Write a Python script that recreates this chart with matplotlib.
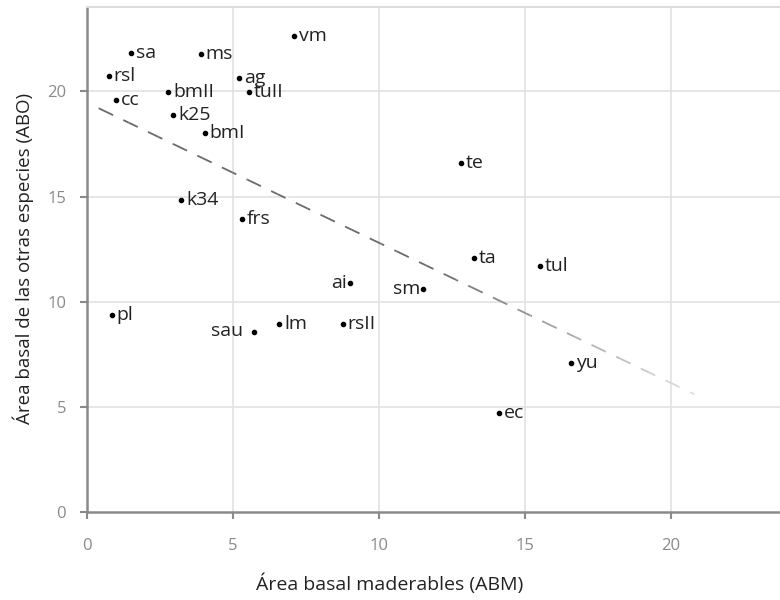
import matplotlib
matplotlib.use("Agg")
import matplotlib.pyplot as plt
import numpy as np

# Data
labels = ["sa", "ms", "vm", "rsl", "ag", "bmII", "tuII", "cc", "k25", "bmI",
          "te", "k34", "frs", "ta", "tul", "ai", "sm", "pl", "lm", "rsII",
          "sau", "yu", "ec"]
abm = [1.50, 3.90, 7.08, 0.75, 5.22, 2.78, 5.54, 0.99, 2.96, 4.04,
       12.81, 3.22, 5.30, 13.25, 15.50, 9.01, 11.52, 0.85, 6.58, 8.76,
       5.72, 16.59, 14.12]
abo = [21.82, 21.80, 22.64, 20.75, 20.66, 19.97, 19.95, 19.60, 18.88, 18.02,
       16.60, 14.86, 13.91, 12.09, 11.72, 10.88, 10.60, 9.38, 8.92, 8.92,
       8.56, 7.10, 4.73]
left_labels = ["ai", "sm", "sau"]

trend_x = [0.4, 20.8]
trend_y = [19.2, 5.6]

xticks = [0, 5, 10, 15, 20]
yticks = [0, 5, 10, 15, 20]

plt.rcParams['font.family'] = ['Open Sans', 'DejaVu Sans']

fig = plt.figure(figsize=(7.8, 6.0), dpi=100)
ax = fig.add_axes([87/780, 88/600, 1 - 87/780, (512-7.3)/600])
ax.set_xlim(0, (780-87)/29.2)
ax.set_ylim(0, 24)

# grid
for v in xticks[1:]:
    ax.axvline(v, color="#e2e2e2", lw=1.2, zorder=0)
for v in yticks[1:]:
    ax.axhline(v, color="#e2e2e2", lw=1.2, zorder=0)

# dashed trend line with fading colour
n = 40
xs = np.linspace(trend_x[0], trend_x[1], n + 1)
ys = np.interp(xs, trend_x, trend_y)
for i in range(n):
    t = i / n
    g = 0.42 + 0.48 * ((t - 0.55) / 0.45) if t > 0.55 else 0.42
    ax.plot(xs[i:i+2], ys[i:i+2], color=(g, g, g), lw=1.3, zorder=1,
            solid_capstyle="butt")
# cut the gaps of the dashes
ax.plot(trend_x, trend_y, color="white", lw=2.4, zorder=1.5,
        linestyle=(3.4, (3.4, 4.8)), solid_capstyle="butt",
        dash_capstyle="butt")

ax.plot(abm, abo, "o", color="black", markersize=3.0, zorder=3)
for lab, x, y in zip(labels, abm, abo):
    if lab in left_labels:
        off = (-8, 1) if lab == "sau" else (-2.5, 0)
        ax.annotate(lab, (x, y), xytext=off, textcoords="offset points",
                    ha="right", va="center", fontsize=14, color="#222222")
    else:
        ax.annotate(lab, (x, y), xytext=(3.5, 0), textcoords="offset points",
                    ha="left", va="center", fontsize=14, color="#222222")

ax.spines["right"].set_visible(False)
ax.spines["top"].set_color("#dddddd")
ax.spines["top"].set_linewidth(1.5)
for s in ["left", "bottom"]:
    ax.spines[s].set_color("#8a8a8a")
    ax.spines[s].set_linewidth(1.8)

ax.set_xticks(xticks)
ax.set_yticks(yticks)
ax.tick_params(axis="both", colors="#8a8a8a", labelcolor="#8a8a8a",
               labelsize=12, length=5, width=1.5, direction="out")
ax.tick_params(axis="x", pad=14)
ax.tick_params(axis="y", pad=10)

fig.text(390/780, 1 - 584/600, "Área basal maderables (ABM)", ha="center",
         va="center", fontsize=14, color="#222222")
fig.text(23/780, 1 - 258/600, "Área basal de las otras especies (ABO)",
         ha="center", va="center", rotation=90, fontsize=13.5, color="#222222")

fig.savefig("out.png", dpi=100)
